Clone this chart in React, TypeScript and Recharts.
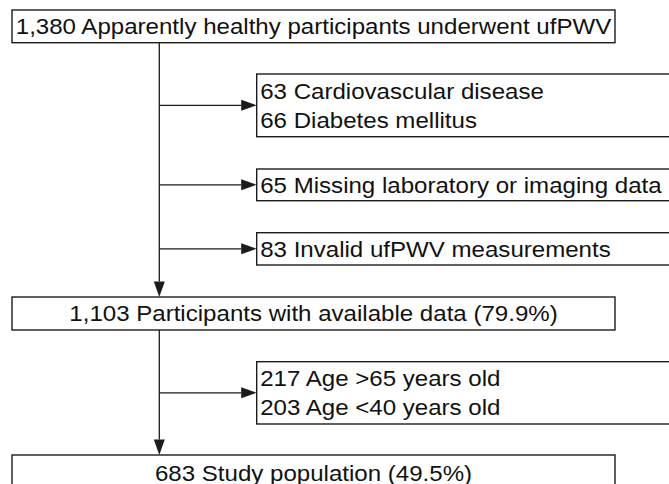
import { ComposedChart, XAxis, YAxis, ReferenceArea, ReferenceLine } from "recharts";

// flow stages (main column) and exclusion notes (side boxes)
const stageLabels = [
  "1,380 Apparently healthy participants underwent ufPWV",
  "1,103 Participants with available data (79.9%)",
  "683 Study population (49.5%)",
];

const exclusionLabels = [
  ["63 Cardiovascular disease", "66 Diabetes mellitus"],
  ["65 Missing laboratory or imaging data"],
  ["83 Invalid ufPWV measurements"],
  ["217 Age >65 years old", "203 Age <40 years old"],
];

// layout, in chart units (axis domain = pixel grid)
const W = 669;
const H = 484;
const SPINE_X = 159.3;
const STAGE_X = [12, 615];
const STAGE_Y = [
  [10, 42.7],
  [297, 330],
  [455, 491],
];
const EXCL_X = [256.7, 672];
const EXCL_Y = [
  [74, 136.7],
  [169, 200.7],
  [232.7, 265],
  [361.7, 424],
];

const INK = "#1c1c1c";
const FONT = '"Liberation Sans", Arial, Helvetica, sans-serif';
const FONT_SIZE = 22.5;
const STRETCH = 1.07;

function boxShape(lines: string[], align: "middle" | "start") {
  return (p: any) => {
    const { x, y, width, height } = p;
    const tx = align === "middle" ? x + width / 2 : x + 3.5;
    const cy = y + height / 2;
    return (
      <g>
        <rect x={x} y={y} width={width} height={height} fill="#fff" stroke={INK} strokeWidth={1.4} />
        {lines.map((t, i) => {
          const by = cy + 7.8 + (i - (lines.length - 1) / 2) * 29;
          return (
            <text
              key={i}
              transform={`translate(${tx},${by}) scale(${STRETCH},1)`}
              textAnchor={align}
              fontSize={FONT_SIZE}
              fontFamily={FONT}
              fill="#111"
            >
              {t}
            </text>
          );
        })}
      </g>
    );
  };
}

function Arrow(p: any) {
  const { x1, y1, x2, y2 } = p;
  const len = Math.hypot(x2 - x1, y2 - y1) || 1;
  const ux = (x2 - x1) / len;
  const uy = (y2 - y1) / len;
  const head = 15.5;
  const half = 5.5;
  const bx = x2 - ux * head;
  const by = y2 - uy * head;
  const pts = `${x2},${y2} ${bx - uy * half},${by + ux * half} ${bx + uy * half},${by - ux * half}`;
  return (
    <g>
      <line x1={x1} y1={y1} x2={bx} y2={by} stroke={INK} strokeWidth={1.3} />
      <polygon points={pts} fill={INK} stroke="none" />
    </g>
  );
}

export default function App() {
  return (
    <div style={{ position: "absolute", left: 0, top: 0, width: W, height: H, background: "#fff" }}>
      <ComposedChart width={W} height={H} margin={{ top: 0, right: 0, bottom: 0, left: 0 }}>
        <XAxis type="number" dataKey="x" domain={[0, W]} allowDataOverflow hide />
        <YAxis type="number" dataKey="y" domain={[0, H]} allowDataOverflow reversed hide />

        {stageLabels.slice(0, -1).map((_, i) => (
          <ReferenceLine
            key={`flow-${i}`}
            segment={[
              { x: SPINE_X, y: STAGE_Y[i][1] },
              { x: SPINE_X, y: STAGE_Y[i + 1][0] },
            ]}
            ifOverflow="visible"
            shape={Arrow}
          />
        ))}

        {exclusionLabels.map((_, i) => {
          const yc = (EXCL_Y[i][0] + EXCL_Y[i][1]) / 2;
          return (
            <ReferenceLine
              key={`excl-arrow-${i}`}
              segment={[
                { x: SPINE_X, y: yc },
                { x: EXCL_X[0], y: yc },
              ]}
              ifOverflow="visible"
              shape={Arrow}
            />
          );
        })}

        {stageLabels.map((label, i) => (
          <ReferenceArea
            key={`stage-${i}`}
            x1={STAGE_X[0]}
            x2={STAGE_X[1]}
            y1={STAGE_Y[i][0]}
            y2={STAGE_Y[i][1]}
            ifOverflow="visible"
            shape={boxShape([label], "middle")}
          />
        ))}

        {exclusionLabels.map((lines, i) => (
          <ReferenceArea
            key={`excl-${i}`}
            x1={EXCL_X[0]}
            x2={EXCL_X[1]}
            y1={EXCL_Y[i][0]}
            y2={EXCL_Y[i][1]}
            ifOverflow="visible"
            shape={boxShape(lines, "start")}
          />
        ))}
      </ComposedChart>
    </div>
  );
}
